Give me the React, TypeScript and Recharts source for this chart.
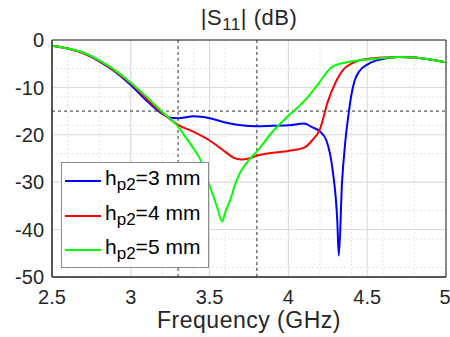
import {
  LineChart, Line, XAxis, YAxis, CartesianGrid, ReferenceLine, ReferenceArea,
} from 'recharts'

// frequency (GHz) and |S11| (dB) for each h_p2
const freq3 = [2.5, 2.6, 2.7, 2.8, 2.9, 3.0, 3.1, 3.2, 3.25, 3.3, 3.4, 3.5, 3.6, 3.7, 3.8, 3.9, 4.0, 4.1, 4.15, 4.2, 4.24, 4.28, 4.31, 4.32, 4.34, 4.36, 4.385, 4.4, 4.42, 4.45, 4.5, 4.55, 4.6, 4.7, 4.8, 4.9, 5.0]
const s11_3 = [-1.2, -1.8, -2.8, -4.5, -6.7, -9.5, -12.8, -15.6, -16.4, -16.5, -16.1, -16.5, -17.4, -18.0, -18.2, -18.1, -18.0, -17.6, -18.4, -19.3, -21.1, -27.3, -38, -45.5, -30.2, -21.8, -14.8, -11.5, -8.6, -6.6, -5.2, -4.4, -4.0, -3.6, -3.7, -4.1, -4.7]

const freq4 = [2.5, 2.6, 2.7, 2.8, 2.9, 3.0, 3.1, 3.2, 3.3, 3.4, 3.5, 3.6, 3.65, 3.7, 3.75, 3.8, 3.9, 4.0, 4.1, 4.15, 4.2, 4.25, 4.3, 4.35, 4.4, 4.45, 4.5, 4.6, 4.7, 4.8, 4.9, 5.0]
const s11_4 = [-1.2, -1.8, -2.8, -4.4, -6.6, -9.2, -12.4, -15.4, -17.9, -19.4, -21.2, -23.6, -24.8, -25.2, -25.0, -24.4, -23.8, -23.4, -22.7, -21.2, -18.8, -13.0, -8.9, -6.2, -5.0, -4.3, -4.0, -3.7, -3.6, -3.7, -4.1, -4.7]

const freq5 = [2.5, 2.6, 2.7, 2.8, 2.9, 3.0, 3.1, 3.2, 3.3, 3.35, 3.4, 3.45, 3.5, 3.55, 3.58, 3.6, 3.63, 3.67, 3.7, 3.75, 3.8, 3.9, 4.0, 4.1, 4.18, 4.28, 4.39, 4.5, 4.6, 4.7, 4.8, 4.9, 5.0]
const s11_5 = [-1.2, -1.8, -2.7, -4.3, -6.4, -9.0, -12.0, -15.2, -18.3, -20.6, -23.0, -25.8, -30.7, -35.5, -38.3, -36.3, -33.8, -29.7, -27.6, -25.3, -23.5, -19.3, -16.0, -12.9, -9.7, -5.6, -4.6, -4.1, -3.8, -3.6, -3.7, -4.1, -4.7]

const xTicks = [2.5, 3, 3.5, 4, 4.5, 5]
const yTicks = [-50, -40, -30, -20, -10, 0]
const refFreqs = [3.3, 3.8]
const refLevel = -15

const legendNames = ['3', '4', '5']
const colors = ['#0000ff', '#ff0000', '#00ff00']

const minorX: number[] = []
for (let i = 0; i <= 25; i++) minorX.push(+(2.5 + i * 0.1).toFixed(2))
const minorY: number[] = []
for (let i = 0; i <= 25; i++) minorY.push(-50 + i * 2)

const toPoints = (f: number[], s: number[]) => f.map((x, i) => ({ x, y: s[i] }))
const series = [toPoints(freq3, s11_3), toPoints(freq4, s11_4), toPoints(freq5, s11_5)]

const font = '"Liberation Sans", Arial, sans-serif'
const ink = '#262626'

export default function App() {
  return (
    <div style={{ position: 'absolute', left: 0, top: 0, width: 450, height: 337, background: '#fff', fontFamily: font, overflow: 'hidden' }}>
      <LineChart width={450} height={337} margin={{ top: 40, right: 4, bottom: 0, left: 0 }}>
        <CartesianGrid verticalValues={minorX} horizontalValues={minorY} stroke="#e4e4e4" strokeDasharray="2 2" />
        <CartesianGrid verticalValues={xTicks} horizontalValues={yTicks} stroke="#d9d9d9" />
        <XAxis
          type="number"
          dataKey="x"
          domain={[2.5, 5]}
          ticks={xTicks}
          allowDataOverflow
          height={60}
          tickLine={false}
          tickMargin={7}
          axisLine={{ stroke: ink }}
          tick={{ fontSize: 20, fill: ink, fontFamily: font }}
        />
        <YAxis
          type="number"
          dataKey="y"
          domain={[-50, 0]}
          ticks={yTicks}
          allowDataOverflow
          width={52}
          tickLine={false}
          tickMargin={2}
          axisLine={{ stroke: ink }}
          tick={{ fontSize: 20, fill: ink, fontFamily: font }}
        />
        {refFreqs.map((f) => (
          <ReferenceLine key={f} x={f} stroke="#333" strokeDasharray="3 3" />
        ))}
        <ReferenceLine y={refLevel} stroke="#333" strokeDasharray="3 3" />
        <ReferenceArea x1={2.5} x2={5} y1={-50} y2={0} fill="none" fillOpacity={0} stroke={ink} />
        {series.map((d, i) => (
          <Line
            key={i}
            data={d}
            dataKey="y"
            type="monotone"
            stroke={colors[i]}
            strokeWidth={2}
            dot={false}
            isAnimationActive={false}
          />
        ))}
      </LineChart>

      {/* title */}
      <div style={{ position: 'absolute', left: 0, width: 498, top: 5, textAlign: 'center', fontSize: 22, color: ink, letterSpacing: 0.5 }}>
        |S<sub style={{ fontSize: 17 }}>11</sub>| (dB)
      </div>

      {/* x axis label */}
      <div style={{ position: 'absolute', left: 0, width: 498, top: 307, textAlign: 'center', fontSize: 23, color: ink, letterSpacing: 0.5 }}>
        Frequency (GHz)
      </div>

      {/* legend */}
      <div
        style={{
          position: 'absolute', left: 61, top: 162, width: 148, height: 106,
          border: '1px solid #8c8c8c', background: '#fff', boxSizing: 'border-box',
        }}
      >
        {legendNames.map((n, i) => (
          <div key={n} style={{ position: 'absolute', left: 3, top: 3 + i * 34.5, height: 30, display: 'flex', alignItems: 'center', whiteSpace: 'nowrap' }}>
            <span style={{ display: 'inline-block', width: 36, height: 2, background: colors[i], marginRight: 4 }} />
            <span style={{ fontSize: 21, color: '#000' }}>
              h<sub style={{ fontSize: 17 }}>p2</sub>={n} mm
            </span>
          </div>
        ))}
      </div>
    </div>
  )
}
